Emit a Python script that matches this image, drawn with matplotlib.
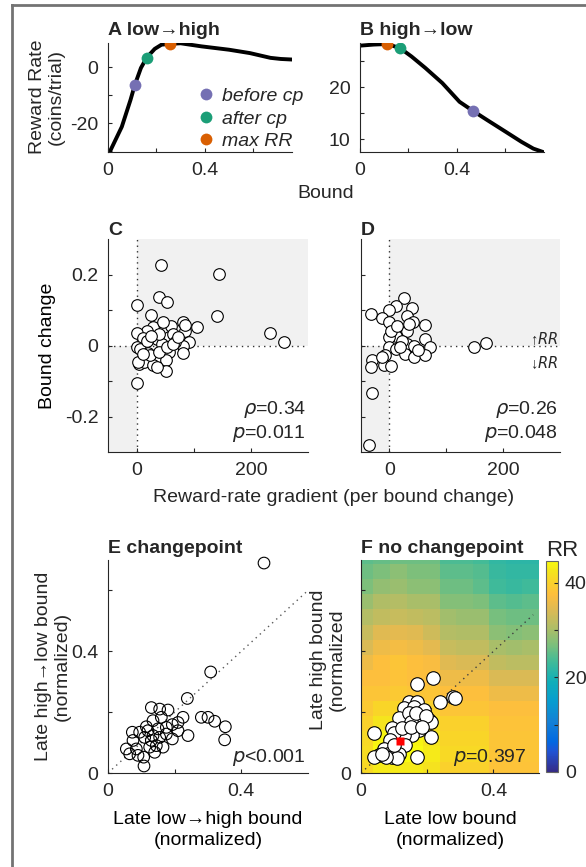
import numpy as np
import matplotlib
matplotlib.use('Agg')
import matplotlib.pyplot as plt
from matplotlib.colors import LinearSegmentedColormap
from matplotlib.lines import Line2D

plt.rcParams['font.family'] = ['Liberation Sans', 'DejaVu Sans']
plt.rcParams['font.size'] = 14
plt.rcParams['text.color'] = '0.15'

# --- данные: панели A, B (кривые reward rate) ---
a_bound = [0.007, 0.057, 0.093, 0.111, 0.136, 0.16, 0.193, 0.221, 0.257, 0.3, 0.386, 0.5, 0.586, 0.671, 0.714, 0.76]
a_rr = [-30.2, -21.2, -11.6, -6.2, -0.2, 3.5, 6.6, 8.1, 8.4, 8.6, 7.5, 6.3, 5.1, 3.4, 3.0, 2.8]
b_bound = [0.003, 0.057, 0.113, 0.166, 0.213, 0.27, 0.34, 0.411, 0.465, 0.525, 0.603, 0.667, 0.716, 0.759]
b_rr = [28.0, 28.2, 28.3, 27.5, 25.9, 23.7, 20.8, 17.2, 15.5, 13.7, 11.4, 9.5, 8.2, 7.5]
mark_names = ['before cp', 'after cp', 'max RR']
mark_colors = ['#7570b3', '#1b9e77', '#d95f02']
a_mark_x = [0.111, 0.16, 0.257]
a_mark_y = [-6.2, 3.5, 8.4]
b_mark_x = [0.465, 0.166, 0.113]
b_mark_y = [15.5, 27.5, 28.3]

# --- панели C, D ---
c_grad = [42, 145, 40, 53, 0, 141, 25, 234, 258, 105, 82, 84, 60, 29, 18, 0, 11, 35, 56, 91, 81, 44, 0, 6, 20,
          56, 81, 35, 51, 5, 13, 29, 51, 0, 23, 40, 64, 85, 47, 40, 18, 67, 3, 35, 53, 64, 26, 12, 73]
c_change = [0.226, 0.202, 0.137, 0.123, 0.115, 0.082, 0.085, 0.036, 0.009, 0.052, 0.066, 0.042, 0.056, 0.052,
            0.042, 0.035, 0.022, 0.019, 0.024, 0.009, 0.0, 0.005, -0.003, -0.009, -0.022, -0.019, -0.022, -0.033,
            -0.042, -0.052, -0.047, -0.056, -0.073, -0.106, -0.028, -0.019, 0.033, 0.059, 0.066, 0.033, 0.014,
            0.009, -0.047, -0.061, -0.005, 0.003, 0.028, -0.024, 0.024]
d_grad = [26, 12, 40, 0, -32, -13, 31, 0, 42, 62, 31, 12, 0, 63, 31, 44, 71, 0, 11, 148, 170, 28, 44, 62, -7,
          -30, -10, 2, -32, -30, -36, 22, 51, 2, 13, 34, -13, 19]
d_change = [0.134, 0.111, 0.106, 0.099, 0.089, 0.078, 0.082, 0.066, 0.066, 0.059, 0.040, 0.028, 0.024, 0.019,
            0.005, 0.0, -0.005, -0.003, -0.009, -0.005, 0.007, -0.025, -0.033, -0.028, -0.028, -0.042, -0.056,
            -0.059, -0.061, -0.134, -0.281, 0.014, -0.014, 0.042, 0.054, 0.061, -0.033, -0.005]

# --- панель E ---
e_lowhigh = [0.468, 0.308, 0.238, 0.13, 0.155, 0.18, 0.16, 0.135, 0.225, 0.28, 0.30, 0.32, 0.352, 0.35, 0.24,
             0.21, 0.193, 0.193, 0.15, 0.175, 0.12, 0.073, 0.095, 0.11, 0.075, 0.065, 0.085, 0.107, 0.108, 0.14,
             0.165, 0.145, 0.125, 0.09, 0.13, 0.155, 0.115, 0.21, 0.175, 0.055, 0.135]
e_highlow = [0.690, 0.332, 0.245, 0.215, 0.21, 0.207, 0.183, 0.172, 0.183, 0.183, 0.183, 0.170, 0.152, 0.109,
             0.123, 0.139, 0.159, 0.112, 0.145, 0.128, 0.139, 0.134, 0.134, 0.117, 0.107, 0.063, 0.079, 0.052,
             0.023, 0.068, 0.085, 0.09, 0.085, 0.058, 0.107, 0.117, 0.152, 0.166, 0.15, 0.079, 0.123]

# --- панель F ---
f_low = [0.218, 0.17, 0.239, 0.279, 0.283, 0.145, 0.17, 0.129, 0.16, 0.19, 0.185, 0.205, 0.21, 0.114, 0.145,
         0.094, 0.14, 0.175, 0.21, 0.155, 0.129, 0.099, 0.039, 0.089, 0.134, 0.069, 0.083, 0.053, 0.039, 0.094,
         0.116, 0.17, 0.109, 0.074, 0.15, 0.165, 0.195, 0.124, 0.15, 0.185, 0.099, 0.064]
f_high = [0.311, 0.294, 0.234, 0.251, 0.248, 0.234, 0.234, 0.212, 0.218, 0.208, 0.174, 0.174, 0.169, 0.18, 0.196,
          0.147, 0.147, 0.141, 0.119, 0.124, 0.124, 0.13, 0.133, 0.108, 0.091, 0.08, 0.064, 0.058, 0.053, 0.052,
          0.064, 0.051, 0.05, 0.051, 0.169, 0.196, 0.186, 0.147, 0.152, 0.152, 0.091, 0.064]
f_best = (0.117, 0.106)
rr_low = [0.0125, 0.0625, 0.1125, 0.1625, 0.2125, 0.2625, 0.3125, 0.3625, 0.4125, 0.4625, 0.5125]
rr_high = [0.0125, 0.0625, 0.1125, 0.1625, 0.2125, 0.2625, 0.3125, 0.3625, 0.4125, 0.4625, 0.5125,
           0.5625, 0.6125, 0.6625, 0.7125]
rr_grid = [
    [41, 43, 43, 43, 42, 40, 40, 40, 38, 38, 38],
    [41.5, 44.5, 44.5, 44.5, 43, 41, 41, 41, 38.5, 38.5, 38.5],
    [41, 44, 44, 44, 42.5, 40.5, 40.5, 40.5, 38.5, 38.5, 38.5],
    [40, 42.5, 42.5, 42.5, 41.5, 40, 40, 40, 38, 38, 38],
    [39, 40.5, 40.5, 40.5, 40, 38.5, 38.5, 38.5, 37.5, 37.5, 37.5],
    [38.5, 38.5, 39, 38.5, 38.5, 37.5, 37.5, 37.5, 36, 36, 36],
    [37.5, 37.5, 38, 37.5, 37.5, 36, 36, 36, 34, 34, 34],
    [36, 37.5, 38.5, 37.5, 37, 34.5, 34, 34, 32, 31.5, 31.5],
    [34, 36, 36.5, 36, 35, 32.5, 32, 32, 30, 29.5, 30],
    [32.5, 34.5, 35, 34.5, 33, 31, 30.5, 30.5, 28, 27.5, 28],
    [31, 32, 32.5, 32, 31.5, 29.5, 29, 29, 26.5, 26, 26],
    [29, 30.5, 31, 30, 30, 27.5, 27.5, 27, 25, 24.5, 25],
    [27, 28.5, 29, 28, 28, 26, 26, 25, 23, 22.5, 23],
    [26, 27, 28, 27, 27, 25, 25, 24.5, 22.5, 22, 22],
    [25, 25.5, 26, 26, 26, 24, 24, 23.5, 22, 21.5, 21.5],
]

# палитра parula (приближение, узлы из 64-цветной таблицы)
parula_idx = [0, 6, 9, 15, 21, 27, 33, 38, 43, 49, 53, 57, 60, 63]
parula_rgb = [(0.2081, 0.1663, 0.5292), (0.1253, 0.3242, 0.8303), (0.0060, 0.4086, 0.8828),
              (0.0779, 0.5040, 0.8384), (0.0265, 0.6137, 0.8135), (0.0590, 0.6838, 0.7254),
              (0.2586, 0.7317, 0.5954), (0.4871, 0.7491, 0.4840), (0.6834, 0.7435, 0.4044),
              (0.8824, 0.7274, 0.3217), (0.9938, 0.7455, 0.2403), (0.9789, 0.8271, 0.1633),
              (0.9589, 0.8949, 0.1132), (0.9763, 0.9831, 0.0538)]
parula = LinearSegmentedColormap.from_list('parula', [(i / 63, c) for i, c in zip(parula_idx, parula_rgb)])

W, H = 586, 867
fig = plt.figure(figsize=(W / 100, H / 100), dpi=100)


def px_axes(l, t, r, b):
    return fig.add_axes([l / W, 1 - b / H, (r - l) / W, (b - t) / H])


def matlab_style(ax):
    ax.spines['top'].set_visible(False)
    ax.spines['right'].set_visible(False)
    for s in ['left', 'bottom']:
        ax.spines[s].set_color('0.15')
        ax.spines[s].set_linewidth(0.8)
    ax.tick_params(direction='in', length=3, width=0.8, colors='0.15', labelsize=14, pad=7)


# рамка
fig.add_artist(Line2D([12 / W, 12 / W], [0, 1 - 5 / H], color='0.45', lw=2))
fig.add_artist(Line2D([12 / W, 1], [1 - 5 / H, 1 - 5 / H], color='0.45', lw=2))

# A
ax = px_axes(108, 43, 292, 152)
matlab_style(ax)
ax.plot(a_bound, a_rr, color='k', lw=2.8, zorder=2)
for i in range(3):
    ax.plot(a_mark_x[i], a_mark_y[i], 'o', ms=8.5, color=mark_colors[i], mec='none', zorder=3)
ax.set_xlim(0, 0.76)
ax.set_ylim(-30.2, 8.7)
ax.set_xticks([0, 0.2, 0.4, 0.6])
ax.set_xticklabels(['0', '', '0.4', ''])
ax.set_yticks([-30, -20, -10, 0])
ax.set_yticklabels(['', '-20', '', '0'])
ax.set_title('A low→high', loc='left', fontweight='bold', pad=6, fontsize=14)
handles = [Line2D([], [], marker='o', ls='none', ms=8.5, color=c, mec='none') for c in mark_colors]
ax.legend(handles, mark_names, loc='upper left', bbox_to_anchor=(0.44, 0.68), frameon=False,
          handlelength=0.8, handletextpad=0.4, labelspacing=0.25, borderpad=0,
          prop={'style': 'italic', 'size': 14})
fig.text(47 / W, 1 - 97 / H, 'Reward Rate\n(coins/trial)', rotation=90, ha='center', va='center',
         fontsize=14, linespacing=1.1)

# B
ax = px_axes(360, 43, 544, 152)
matlab_style(ax)
ax.plot(b_bound, b_rr, color='k', lw=2.8, zorder=2)
for i in range(3):
    ax.plot(b_mark_x[i], b_mark_y[i], 'o', ms=8.5, color=mark_colors[i], mec='none', zorder=3)
ax.set_xlim(0, 0.76)
ax.set_ylim(7.55, 28.5)
ax.set_xticks([0, 0.2, 0.4, 0.6])
ax.set_xticklabels(['0', '', '0.4', ''])
ax.set_yticks([10, 15, 20, 25])
ax.set_yticklabels(['10', '', '20', ''])
ax.set_title('B high→low', loc='left', fontweight='bold', pad=6, fontsize=14)
fig.text(326 / W, 1 - 193 / H, 'Bound', ha='center', va='center', fontsize=14)

# C, D
for k, (l, r, gx, gy, letter, stats) in enumerate([
        (108, 308, c_grad, c_change, 'C', ['0.34', '0.011']),
        (361, 560, d_grad, d_change, 'D', ['0.26', '0.048'])]):
    ax = px_axes(l, 239, r, 452)
    matlab_style(ax)
    ax.set_xlim(-50, 300)
    ax.set_ylim(-0.3, 0.3)
    ax.fill_between([0, 300], 0, 0.3, color='0.945', lw=0, zorder=0)
    ax.fill_between([-50, 0], -0.3, 0, color='0.945', lw=0, zorder=0)
    ax.axhline(0, color='0.2', ls=(0, (1, 3)), lw=1, zorder=1)
    ax.axvline(0, color='0.2', ls=(0, (1, 3)), lw=1, zorder=1)
    ax.scatter(gx, gy, s=70, facecolor='white', edgecolor='k', linewidth=0.8, zorder=3)
    ax.set_xticks([0, 100, 200])
    ax.set_xticklabels(['0', '', '200'])
    ax.set_yticks([-0.2, -0.1, 0, 0.1, 0.2])
    if k == 0:
        ax.set_yticklabels(['-0.2', '', '0', '', '0.2'])
        ax.set_ylabel('Bound change', fontsize=14, labelpad=6)
    else:
        ax.set_yticklabels([])
        ax.text(0.99, 0.53, '↑$\\it{RR}$', transform=ax.transAxes, ha='right', va='center', fontsize=10.5)
        ax.text(0.99, 0.42, '↓$\\it{RR}$', transform=ax.transAxes, ha='right', va='center', fontsize=10.5)
    ax.text(0.0, 1.0, letter, transform=ax.transAxes, ha='left', va='bottom', fontweight='bold', fontsize=14)
    ax.text(0.99, 0.2, '$\\rho$=' + stats[0], transform=ax.transAxes, ha='right', va='center', fontsize=14)
    ax.text(0.99, 0.085, '$p$=' + stats[1], transform=ax.transAxes, ha='right', va='center', fontsize=14)
fig.text(334 / W, 1 - 497 / H, 'Reward-rate gradient (per bound change)', ha='center', va='center', fontsize=14)

# E
ax = px_axes(108, 560, 308, 773)
matlab_style(ax)
ax.set_xlim(0, 0.6)
ax.set_ylim(0, 0.7)
ax.plot([0, 0.6], [0, 0.6], color='0.35', ls=(0, (1, 3)), lw=1, zorder=1)
ax.scatter(e_lowhigh, e_highlow, s=70, facecolor='none', edgecolor='k', linewidth=0.8, zorder=3, clip_on=False)
ax.set_xticks([0, 0.2, 0.4])
ax.set_xticklabels(['0', '', '0.4'])
ax.set_yticks([0, 0.2, 0.4, 0.6])
ax.set_yticklabels(['0', '', '0.4', ''])
ax.set_title('E changepoint', loc='left', fontweight='bold', pad=5, fontsize=14)
ax.text(0.99, 0.075, '$p$<0.001', transform=ax.transAxes, ha='right', va='center', fontsize=14)
ax.set_xlabel('Late low→high bound\n(normalized)', fontsize=14, linespacing=1.35, labelpad=8)
fig.text(53 / W, 1 - 666 / H, 'Late high→low bound\n(normalized)', rotation=90, ha='center', va='center',
         fontsize=14, linespacing=1.1)

# F
ax = px_axes(361, 560, 539, 773)
matlab_style(ax)
mesh = ax.pcolormesh(rr_low, rr_high, np.array(rr_grid), cmap=parula, vmin=0, vmax=44.6,
                     shading='nearest', zorder=0)
ax.set_xlim(0, 0.5375)
ax.set_ylim(0, 0.7)
ax.plot([0, 0.52], [0, 0.52], color='0.25', ls=(0, (1, 3)), lw=1, zorder=1)
ax.scatter(f_low, f_high, s=95, facecolor='white', edgecolor='k', linewidth=0.8, zorder=3)
ax.plot(f_best[0], f_best[1], 's', ms=6, color='red', mec='none', zorder=4)
ax.set_xticks([0, 0.2, 0.4])
ax.set_xticklabels(['0', '', '0.4'])
ax.set_yticks([0, 0.2, 0.4, 0.6])
ax.set_yticklabels(['0', '', '', ''])
ax.set_title('F no changepoint', loc='left', fontweight='bold', pad=5, fontsize=14)
ax.text(0.93, 0.075, '$p$=0.397', transform=ax.transAxes, ha='right', va='center', fontsize=14)
ax.set_xlabel('Late low bound\n(normalized)', fontsize=14, linespacing=1.35, labelpad=8)
fig.text(328 / W, 1 - 660 / H, 'Late high bound\n(normalized', rotation=90, ha='center', va='center',
         fontsize=14, linespacing=1.1)

cax = px_axes(546, 561, 558, 772)
cb = fig.colorbar(mesh, cax=cax)
cb.set_ticks([0, 10, 20, 30, 40])
cb.set_ticklabels(['0', '', '20', '', '40'])
cb.outline.set_edgecolor('0.4')
cb.outline.set_linewidth(0.8)
cax.tick_params(direction='in', length=3, width=0.8, colors='0.15', labelsize=14, pad=5)
cax.text(0.0, 1.0, 'RR', transform=cax.transAxes, ha='left', va='bottom', fontsize=16)

fig.savefig('out.png', dpi=100)
